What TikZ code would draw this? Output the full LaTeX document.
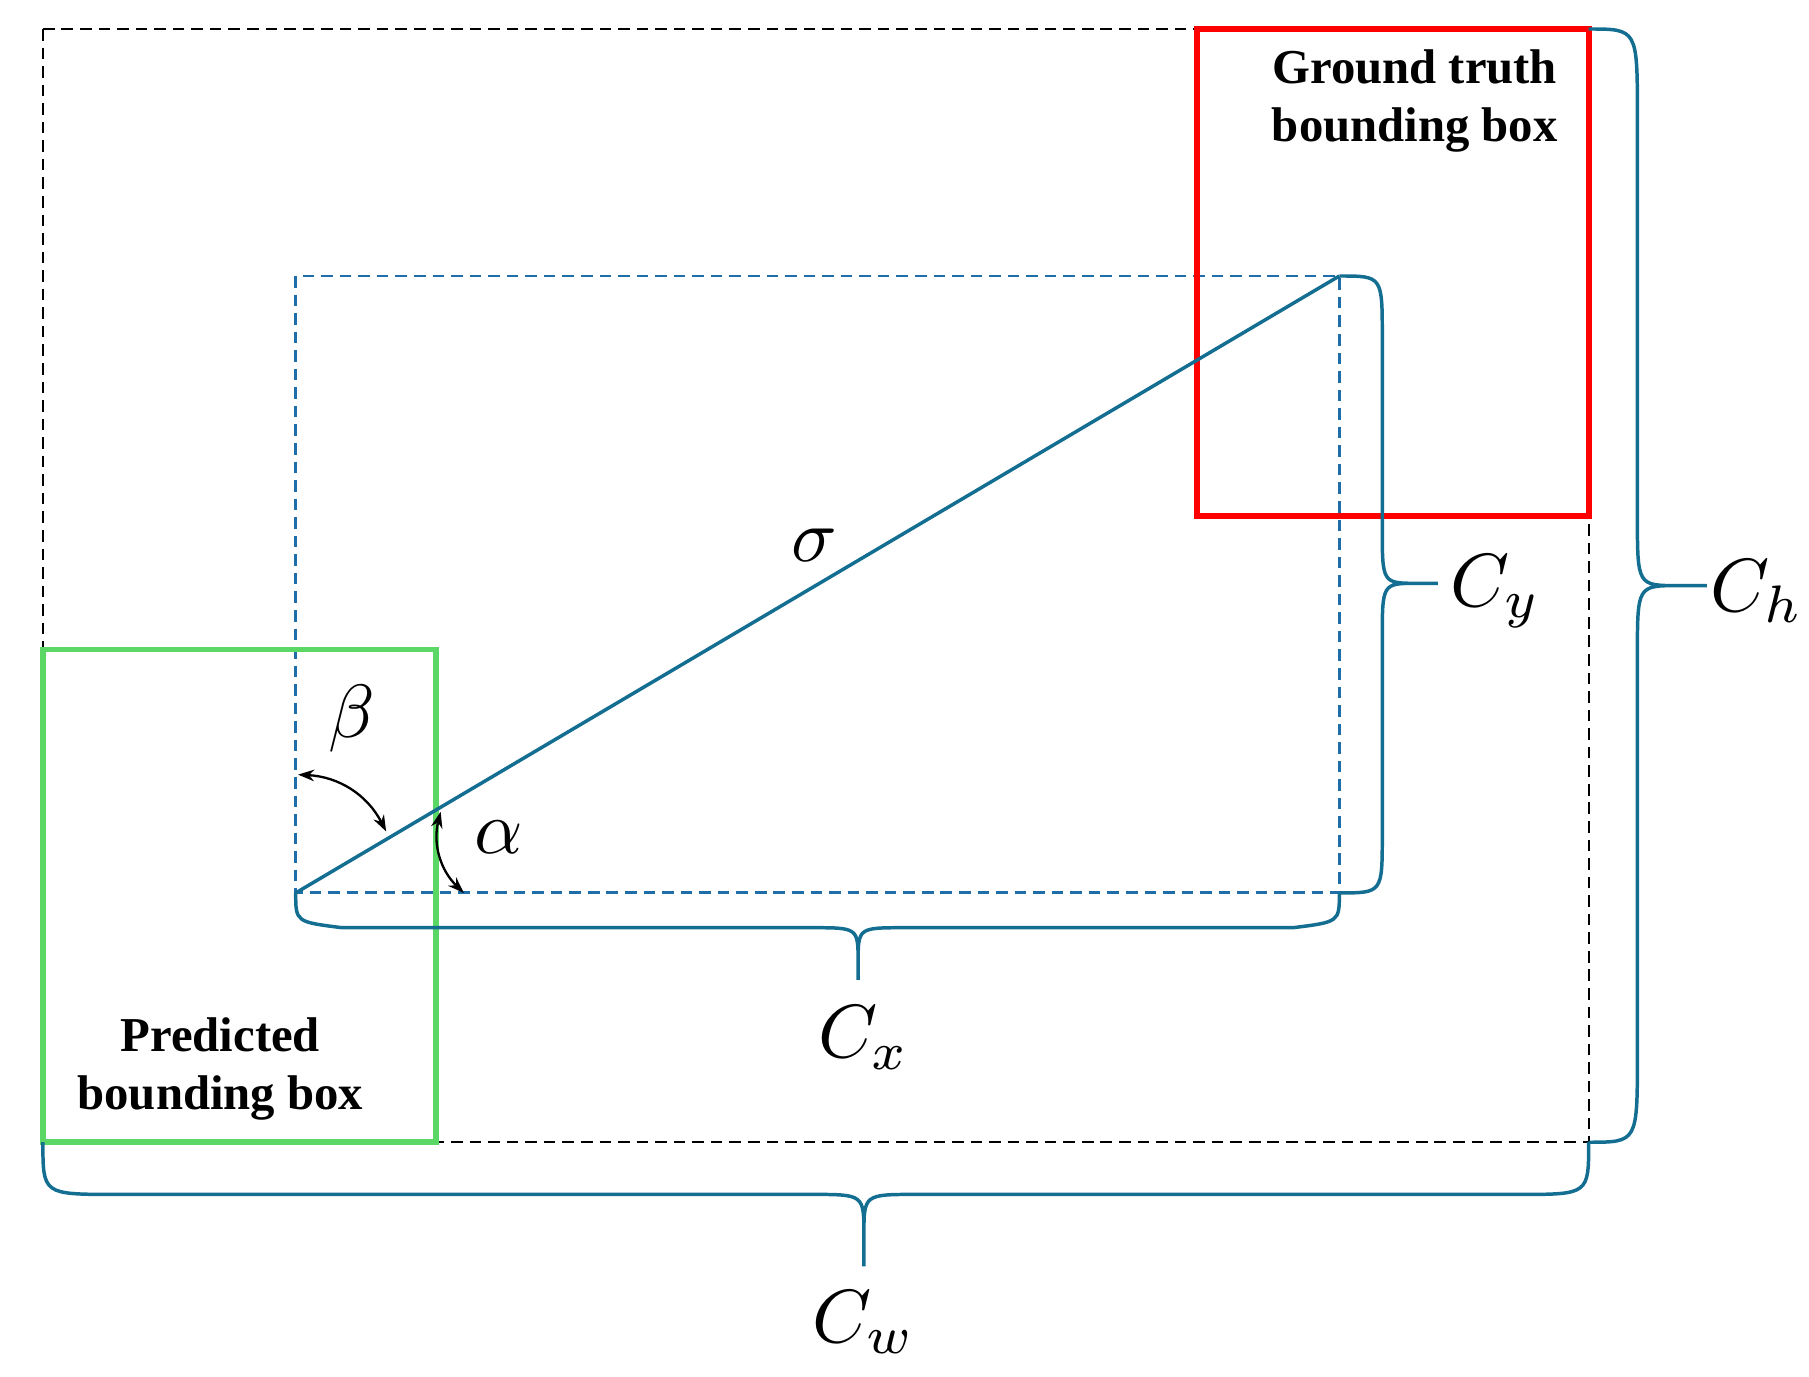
\documentclass[tikz,border=0pt]{standalone}
\usepackage{fontspec}
\setmainfont{Liberation Serif}
\usetikzlibrary{arrows.meta}
\definecolor{teal1}{RGB}{20,110,145}
\definecolor{blued}{RGB}{30,110,170}
\definecolor{greenb}{RGB}{90,215,100}
\begin{document}
\begin{tikzpicture}[x=1pt,y=-1pt,
  br/.style={draw=teal1,line width=3pt},
  lbl/.style={font=\fontsize{42}{50}\selectfont\bfseries,align=center},
  mth/.style={scale=6.5},
  ang/.style={line width=2pt,{Stealth[length=14pt,width=10pt]}-{Stealth[length=14pt,width=10pt]}}]
\useasboundingbox (0,0) rectangle (1560,1187);
\coordinate (K1) at (37,25); \coordinate (K2) at (1370,985);
\coordinate (K3) at (1370,25); \coordinate (K4) at (37,985);
\coordinate (B1) at (255,238); \coordinate (B2) at (1155,770);
\coordinate (B3) at (1155,238); \coordinate (B4) at (255,770);
\draw[black,line width=2pt,dash pattern=on 10pt off 6pt] (K1) rectangle (K2);
\draw[blued,line width=2.5pt,dash pattern=on 10pt off 6pt] (B1) rectangle (B2);
\draw[red,line width=5pt] (1032,25) rectangle (1370,445);
\draw[greenb,line width=5pt] (37,560) rectangle (376,985);
\draw[teal1,line width=3pt] (B4) -- (B3);
\node[mth] (sig) at (702,470) {$\sigma$};
% Cx brace
\draw[br] (B4) .. controls (255,795) .. (295,800) -- (700,800) .. controls (740,800) .. (740,830) -- (740,845)
  (740,830) .. controls (740,800) .. (780,800) -- (1115,800) .. controls (1155,795) .. (B2);
% Cw brace
\draw[br] (K4) .. controls (37,1030) .. (100,1030) -- (700,1030) .. controls (745,1030) .. (745,1065) -- (745,1092)
  (745,1065) .. controls (745,1030) .. (790,1030) -- (1310,1030) .. controls (1370,1030) .. (K2);
% Cy brace
\draw[br] (B3) .. controls (1192,238) .. (1192,290) -- (1192,455) .. controls (1192,503) .. (1222,503) -- (1240,503)
  (1222,503) .. controls (1192,503) .. (1192,551) -- (1192,720) .. controls (1192,770) .. (B2);
% Ch brace
\draw[br] (K3) .. controls (1412,25) .. (1412,100) -- (1412,445) .. controls (1412,505) .. (1447,505) -- (1472,505)
  (1447,505) .. controls (1412,505) .. (1412,565) -- (1412,910) .. controls (1412,985) .. (K2);
\node[mth] (cx) at (745,895) {$C_x$};
\node[mth] (cy) at (1290,510) {$C_y$};
\node[mth] (ch) at (1515,510) {$C_h$};
\node[mth] (cw) at (745,1140) {$C_w$};
\coordinate (a1) at (257,668); \coordinate (a2) at (333,717);
\coordinate (a3) at (380,700); \coordinate (a4) at (400,770);
\draw[ang] (a1) to[bend left=30] (a2);
\draw[ang] (a3) to[bend right=30] (a4);
\node[mth] (beta) at (303,620) {$\beta$};
\node[mth] (alpha) at (430,722) {$\alpha$};
\node[lbl] (gt) at (1220,87) {Ground truth\\bounding box};
\node[lbl] (pb) at (190,922) {Predicted\\bounding box};
\end{tikzpicture}
\end{document}
